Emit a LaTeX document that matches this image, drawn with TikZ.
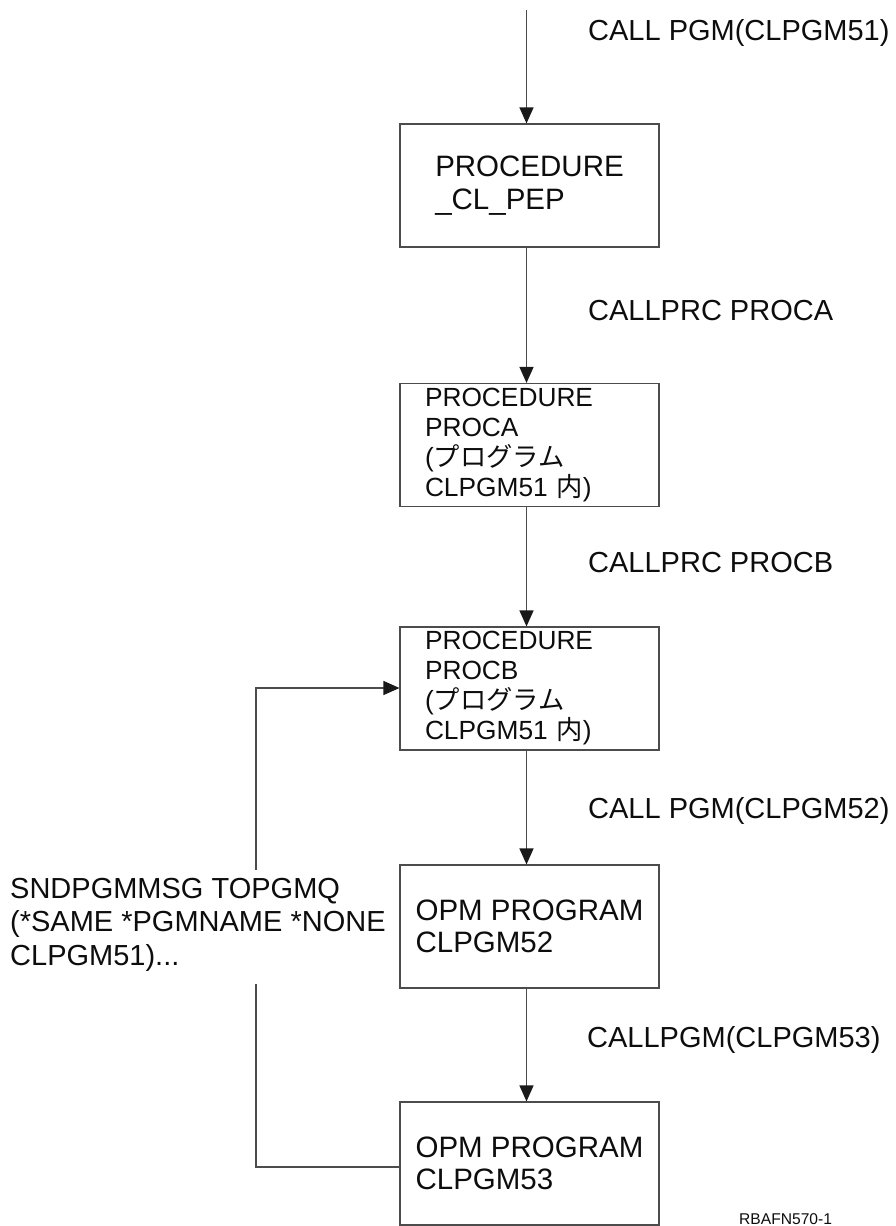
\documentclass[tikz,border=0pt]{standalone}
\usepackage{fontspec}
\setmainfont{Liberation Sans}
\newfontfamily\jp{Noto Sans CJK JP}
\usetikzlibrary{arrows.meta}
\begin{document}
\begin{tikzpicture}[x=1pt,y=-1pt,
  box/.style={draw=black!70, line width=1.1pt, minimum width=259pt, minimum height=123pt, inner sep=0pt, text=black!95, align=left},
  bigtxt/.style={font=\fontsize{29.5}{32.5}\selectfont},
  smalltxt/.style={font=\fontsize{26.3}{30}\selectfont, text width=209pt, inner xsep=25pt},
  lbl/.style={font=\fontsize{29}{33.5}\selectfont, text=black!95, inner sep=0pt, anchor=base west},
  conn/.style={draw=black!70, line width=1.1pt},
  >={Triangle[length=16pt,width=14pt,color=black!90]}
]
\useasboundingbox (0,0) rectangle (895,1226);

% boxes
\node[box,bigtxt] (b1) at (529.5,185.5) {PROCEDURE\\\_CL\_PEP};
\node[box,smalltxt] (b2) at (529.5,445) {PROCEDURE\\PROCA\\({\jp プログラム}\\CLPGM51 {\jp 内})};
\node[box,smalltxt] (b3) at (529.5,688.5) {PROCEDURE\\PROCB\\({\jp プログラム}\\CLPGM51 {\jp 内})};
\node[box,bigtxt] (b4) at (529.5,926.5) {OPM PROGRAM\\CLPGM52};
\node[box,bigtxt] (b5) at (529.5,1163.5) {OPM PROGRAM\\CLPGM53};

% labels
\node[lbl] (l1) at (588,40) {CALL PGM(CLPGM51)};
\node[lbl] (l2) at (588,320) {CALLPRC PROCA};
\node[lbl] (l3) at (588,572) {CALLPRC PROCB};
\node[lbl] (l4) at (588,818) {CALL PGM(CLPGM52)};
\node[lbl] (l5) at (587,1047) {CALLPGM(CLPGM53)};
\node[lbl, anchor=north west, align=left] (msg) at (10,878) {SNDPGMMSG TOPGMQ\\(*SAME *PGMNAME *NONE\\CLPGM51)...};
\node[lbl, font=\fontsize{15.6}{18}\selectfont] (fig) at (739,1224) {RBAFN570-1};

% main flow
\coordinate (s) at (526.5,10);
\draw[conn,->] (s) -- (s |- b1.north);
\draw[conn,->] (b1.south -| s) -- (b2.north -| s);
\draw[conn,->] (b2.south -| s) -- (b3.north -| s);
\draw[conn,->] (b3.south -| s) -- (b4.north -| s);
\draw[conn,->] (b4.south -| s) -- (b5.north -| s);

% return loop
\coordinate (r1) at (256,1167);
\coordinate (r2) at (256,984);
\coordinate (r3) at (256,870);
\coordinate (r4) at (256,688);
\draw[conn] (b5.west |- r1) -- (r1) -- (r2);
\draw[conn,->] (r3) -- (r4) -- (r4 -| b3.west);
\end{tikzpicture}
\end{document}
